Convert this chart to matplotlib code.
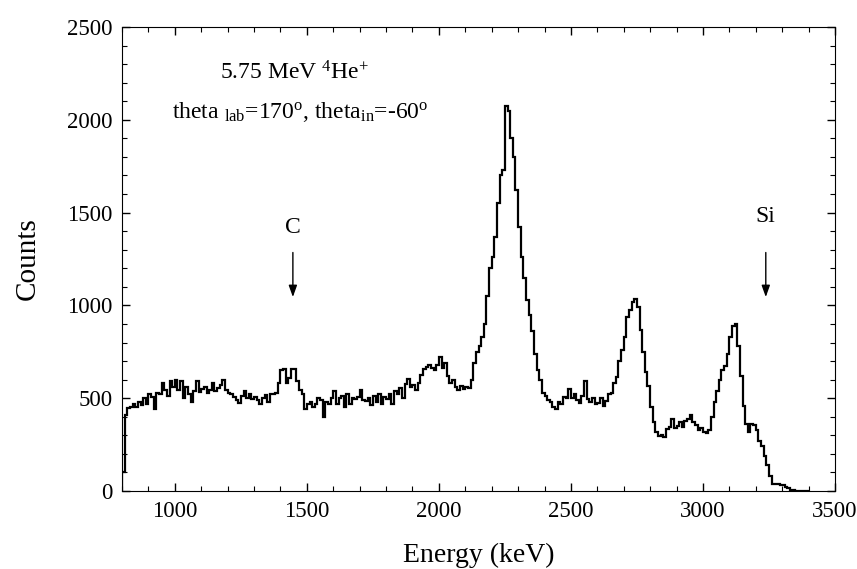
import numpy as np
import matplotlib
matplotlib.use('Agg')
from matplotlib import pyplot as plt


plt.rcParams['font.family']       = 'Liberation Serif'
plt.rcParams['mathtext.fontset']  = 'custom'
plt.rcParams['mathtext.rm']       = 'Liberation Serif'
plt.rcParams['mathtext.it']       = 'Liberation Serif:italic'


# spectrum: 10 keV channels starting at 800 keV
e_start  = 800
e_width  = 10
counts   = [
    100, 410, 445, 450, 470, 455, 480, 465, 500, 470,       # 800
    520, 505, 440, 530, 525, 580, 545, 510, 590, 560,       # 900
    600, 545, 590, 500, 560, 525, 480, 540, 590, 535,       # 1000
    550, 560, 530, 545, 580, 540, 555, 570, 600, 545,       # 1100
    530, 520, 505, 490, 475, 510, 540, 500, 520, 495,       # 1200
    505, 490, 470, 500, 515, 480, 520, 520, 530, 580,       # 1300
    650, 660, 580, 610, 655, 660, 590, 545, 520, 440,       # 1400
    470, 480, 455, 470, 500, 490, 400, 480, 470, 500,       # 1500
    540, 470, 500, 510, 450, 520, 470, 500, 495, 505,       # 1600
    545, 490, 485, 500, 465, 510, 480, 520, 470, 505,       # 1700
    495, 520, 470, 540, 520, 555, 500, 575, 605, 560,       # 1800
    570, 545, 580, 625, 655, 670, 680, 665, 650, 680,       # 1900
    720, 665, 690, 620, 580, 600, 560, 545, 565, 550,       # 2000
    560, 555, 600, 690, 750, 780, 830, 900, 1050, 1200,     # 2100
    1260, 1370, 1550, 1700, 1730, 2075, 2050, 1900, 1800, 1620,  # 2200
    1420, 1260, 1150, 1030, 950, 860, 740, 650, 600, 530,   # 2300
    510, 490, 480, 450, 440, 480, 470, 505, 500, 550,       # 2400
    500, 520, 490, 475, 510, 590, 495, 480, 500, 470,       # 2500
    475, 500, 460, 485, 525, 530, 580, 615, 700, 760,       # 2600
    830, 940, 975, 1020, 1035, 990, 870, 750, 640, 565,     # 2700
    450, 370, 320, 295, 300, 290, 335, 345, 390, 340,       # 2800
    350, 370, 345, 375, 390, 410, 370, 355, 330, 340,       # 2900
    320, 315, 330, 400, 480, 540, 600, 650, 675, 740,       # 3000
    830, 890, 900, 780, 620, 460, 360, 320, 360, 355,       # 3100
    330, 270, 240, 190, 140, 80, 40, 35, 40, 32,            # 3200
    30, 20, 15, 8, 5, 2, 2, 1, 0, 0,                        # 3300
]
counts = np.array(counts)
edges  = e_start + e_width*np.arange(counts.size + 1)

# element markers (energy, arrow tip, arrow tail, label y)
markers = [('C', 1447, 1030, 1300, 1420), ('Si', 3238, 1030, 1300, 1480)]


fig = plt.figure(figsize=(8.57, 5.69), dpi=100)
ax  = fig.add_axes([0.1424, 0.1371, 0.8319, 0.8154])

ax.stairs(counts, edges, baseline=0, color='k', lw=1.6)

for s,x,y0,y1,yt in markers:
    ax.annotate('', xy=(x, y0), xytext=(x, y1),
                arrowprops=dict(arrowstyle='-|>,head_length=0.7,head_width=0.25', color='k', lw=1.0))
    ax.text(x, yt, s, ha='center', va='center', size=17)

ax.text(1455, 2255, r'5.75 MeV $^{4}$He$^{+}$', ha='center', va='center', size=17)
ax.text(1474, 2040, r'theta $_{\rm lab}$=170$^{\rm o}$, theta$_{\rm in}$=-60$^{\rm o}$',
        ha='center', va='center', size=17)

ax.set_xlim(800, 3500)
ax.set_ylim(0, 2500)
ax.set_xticks(np.arange(1000, 3501, 500))
ax.set_yticks(np.arange(0, 2501, 500))
ax.set_xticks(np.arange(800, 3501, 100), minor=True)
ax.set_yticks(np.arange(0, 2501, 100), minor=True)
ax.tick_params(which='both', direction='in', top=True, right=True, labelsize=16.5)
ax.tick_params(which='major', length=6, width=1)
ax.tick_params(which='minor', length=3.5, width=0.8)
ax.tick_params(axis='x', pad=7)
ax.tick_params(axis='y', pad=7)

ax.set_xlabel('Energy (keV)', size=20, labelpad=15)
ax.set_ylabel('Counts', size=21, labelpad=19)

plt.savefig('out.png', dpi=100)
